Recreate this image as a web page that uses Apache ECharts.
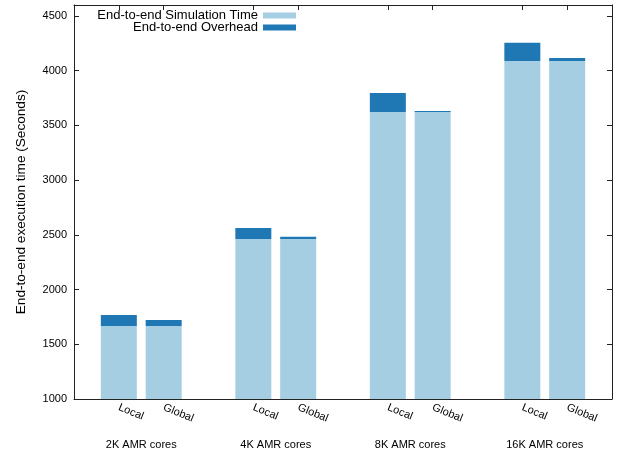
<!DOCTYPE html>
<html>
<head>
<meta charset="utf-8">
<script src="https://cdn.jsdelivr.net/npm/echarts@6/dist/echarts.min.js"></script>
<style>html,body{margin:0;padding:0;background:#fff}#c{width:628px;height:451px}</style>
</head>
<body>
<div id="c"></div>
<script>
const groups = ['2K AMR cores', '4K AMR cores', '8K AMR cores', '16K AMR cores'];
const methods = ['Local', 'Global'];
const simLocal = [1667, 2462, 3623, 4089];
const simGlobal = [1667, 2462, 3623, 4089];
const overheadLocal = [101, 101, 174, 165];
const overheadGlobal = [55, 21, 9, 27];
const yTicks = [1000, 1500, 2000, 2500, 3000, 3500, 4000, 4500];
const seriesNames = ['End-to-end Simulation Time', 'End-to-end Overhead'];

const FONT = 'Liberation Sans, Arial, Helvetica, sans-serif';
// category slots: gap, Local, Global, gap, Local, Global, ..., gap
const cats = [''];
const simData = [null];
const ovData = [null];
groups.forEach((g, gi) => {
  cats.push(methods[0], methods[1], '');
  simData.push(simLocal[gi], simGlobal[gi], null);
  ovData.push(overheadLocal[gi], overheadGlobal[gi], null);
});
const groupCenters = groups.map((g, gi) => gi * 3 + 0.5);

const chart = echarts.init(document.getElementById('c'), null, {renderer: 'canvas'});
const axisCol = '#222';
const legendText = {fontFamily: FONT, fontSize: 13, color: '#000'};
chart.setOption({
  animation: false,
  color: ['#a6cee3', '#1f78b4'],
  grid: {left: 74, right: 16, top: 5, bottom: 52, containLabel: false, outerBoundsMode: 'none'},
  legend: [
    {data: [seriesNames[0]], right: 332, top: 9, padding: 0, align: 'right', icon: 'rect',
     itemWidth: 33, itemHeight: 6, textStyle: legendText},
    {data: [seriesNames[1]], right: 332, top: 21, padding: 0, align: 'right', icon: 'rect',
     itemWidth: 33, itemHeight: 6, textStyle: legendText}
  ],
  xAxis: [
    {type: 'category', data: cats, boundaryGap: false, position: 'bottom',
     axisLine: {show: true, onZero: false, lineStyle: {color: axisCol, width: 1}},
     axisTick: {show: false}, splitLine: {show: false},
     axisLabel: {interval: 0, rotate: -22, margin: 8, fontFamily: FONT, fontSize: 11, color: '#000'}},
    {type: 'value', min: -1, max: 11, position: 'bottom', offset: 32,
     axisLine: {show: false}, axisTick: {show: false}, splitLine: {show: false},
     axisLabel: {customValues: groupCenters, fontFamily: FONT, fontSize: 11, color: '#000',
       formatter: v => groups[Math.floor(v / 3)]}},
    {type: 'category', data: cats, boundaryGap: false, position: 'top',
     axisLine: {show: true, onZero: false, lineStyle: {color: axisCol, width: 1}},
     axisTick: {show: true, inside: true, length: 5, interval: (i) => cats[i] !== '', lineStyle: {color: axisCol}},
     axisLabel: {show: false}, splitLine: {show: false}}
  ],
  yAxis: [
    {type: 'value', min: 1000, max: 4600, position: 'left',
     name: 'End-to-end execution time (Seconds)', nameLocation: 'middle', nameGap: 46, nameRotate: 90,
     nameTextStyle: {fontFamily: FONT, fontSize: 13.6, color: '#000'},
     axisLine: {show: true, onZero: false, lineStyle: {color: axisCol, width: 1}},
     axisTick: {show: true, inside: true, length: 5, customValues: yTicks, lineStyle: {color: axisCol}},
     axisLabel: {customValues: yTicks, margin: 7, fontFamily: FONT, fontSize: 11, color: '#000',
       formatter: v => String(v)},
     splitLine: {show: false}},
    {type: 'value', min: 1000, max: 4600, position: 'right',
     axisLine: {show: true, onZero: false, lineStyle: {color: axisCol, width: 1}},
     axisTick: {show: true, inside: true, length: 5, customValues: yTicks, lineStyle: {color: axisCol}},
     axisLabel: {show: false}, splitLine: {show: false}}
  ],
  series: [
    {name: seriesNames[0], type: 'bar', stack: 'total', xAxisIndex: 0, yAxisIndex: 0,
     barWidth: 36, data: simData, itemStyle: {color: '#a6cee3'}},
    {name: seriesNames[1], type: 'bar', stack: 'total', xAxisIndex: 0, yAxisIndex: 0,
     barWidth: 36, data: ovData, itemStyle: {color: '#1f78b4'}}
  ]
});
</script>
</body>
</html>
